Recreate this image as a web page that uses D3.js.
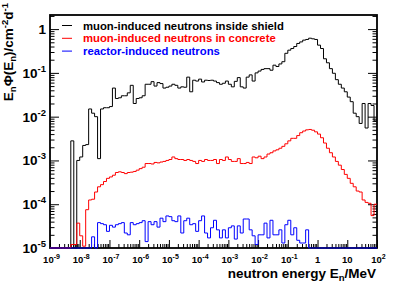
<!DOCTYPE html>
<html>
<head>
<meta charset="utf-8">
<script src="https://cdn.jsdelivr.net/npm/d3@7"></script>
<style>
  html, body { margin: 0; padding: 0; background: #fff; }
  svg { display: block; font-family: "Liberation Sans", Arial, sans-serif; font-weight: bold; }
</style>
</head>
<body>
<svg id="chart" width="407" height="292"></svg>
<script>
// ---------- Data (10 bins per decade, 1e-9 .. 1e2 MeV) ----------
const logEMin = -9, logEMax = 2, binsPerDecade = 10;

const shieldFlux = [
  0, 0, 0, 0, 0, 0, 0, 2.8e-3, 0, 1.0e-3,
  1.2e-3, 2.2e-3, 2.3e-3, 1.5e-2, 1.2e-2, 1.0e-2, 1.1e-3, 1.5e-2, 1.6e-2, 1.6e-2,
  1.7e-2, 4.5e-2, 2.6e-2, 2.7e-2, 3.0e-2, 3.0e-2, 3.5e-2, 5.2e-2, 2.0e-2, 2.6e-2,
  2.7e-2, 3.0e-2, 5.5e-2, 5.5e-2, 6.3e-2, 5.0e-2, 6.0e-2, 5.7e-2, 4.5e-2, 4.7e-2,
  5.0e-2, 5.5e-2, 5.2e-2, 4.5e-2, 4.8e-2, 4.7e-2, 8.0e-2, 3.7e-2, 6.8e-2, 6.5e-2,
  7.2e-2, 6.2e-2, 6.8e-2, 6.7e-2, 6.8e-2, 6.5e-2, 6.0e-2, 5.5e-2, 5.8e-2, 6.5e-2,
  5.5e-2, 4.8e-2, 6.4e-2, 7.8e-2, 4.8e-2, 4.5e-2, 8.0e-2, 9.0e-2, 6.5e-2, 1.0e-1,
  1.1e-1, 1.2e-1, 1.25e-1, 1.25e-1, 1.15e-1, 1.5e-1, 1.4e-1, 1.6e-1, 1.8e-1, 2.8e-1,
  3.3e-1, 3.6e-1, 4.0e-1, 4.7e-1, 5.1e-1, 5.6e-1, 5.8e-1, 6.2e-1, 6.0e-1, 5.8e-1,
  4.3e-1, 3.6e-1, 2.1e-1, 1.7e-1, 1.25e-1, 9.8e-2, 7.0e-2, 5.5e-2, 4.5e-2, 3.7e-2,
  2.8e-2, 2.2e-2, 1.2e-2, 1.0e-2, 7.0e-3, 2.0e-2, 5.5e-3, 2.0e-2, 1.8e-2, 8.0e-3
];

const concreteFlux = [
  0, 0, 0, 0, 0, 0, 0, 1.2e-5, 1.2e-5, 3.7e-5,
  1.9e-5, 1.1e-5, 7.5e-5, 1.25e-4, 1.3e-4, 1.9e-4, 2.5e-4, 2.8e-4, 3.3e-4, 3.9e-4,
  4.2e-4, 4.6e-4, 5.3e-4, 5.5e-4, 5.3e-4, 5.0e-4, 5.3e-4, 5.4e-4, 5.6e-4, 6.0e-4,
  6.5e-4, 7.0e-4, 8.5e-4, 8.5e-4, 8.3e-4, 9.0e-4, 8.8e-4, 9.2e-4, 9.5e-4, 1.0e-3,
  1.05e-3, 1.2e-3, 1.1e-3, 1.05e-3, 1.05e-3, 1.0e-3, 1.05e-3, 1.0e-3, 9.5e-4, 8.5e-4,
  1.0e-3, 9.5e-4, 1.05e-3, 1.0e-3, 1.0e-3, 1.05e-3, 8.5e-4, 1.05e-3, 1.0e-3, 1.2e-3,
  1.05e-3, 9.5e-4, 9.5e-4, 1.1e-3, 8.5e-4, 8.5e-4, 9.0e-4, 8.5e-4, 1.2e-3, 1.15e-3,
  1.25e-3, 1.1e-3, 1.2e-3, 1.4e-3, 1.5e-3, 1.65e-3, 1.75e-3, 1.9e-3, 2.1e-3, 2.4e-3,
  2.8e-3, 3.2e-3, 3.2e-3, 3.7e-3, 4.3e-3, 4.7e-3, 5.0e-3, 5.1e-3, 4.9e-3, 4.5e-3,
  4.0e-3, 3.3e-3, 2.5e-3, 1.9e-3, 1.5e-3, 1.2e-3, 9.5e-4, 7.8e-4, 6.2e-4, 4.8e-4,
  3.9e-4, 3.0e-4, 2.5e-4, 2.0e-4, 1.9e-4, 1.25e-4, 1.1e-4, 1.05e-4, 5.5e-5, 1.0e-4
];

const reactorFlux = [
  0, 0, 0, 0, 0, 0, 0, 0, 0, 0,
  0, 0, 0, 0, 1.8e-5, 0, 3.8e-5, 3.6e-5, 3.4e-5, 2.4e-5,
  3.3e-5, 3.0e-5, 3.4e-5, 3.6e-5, 3.8e-5, 2.2e-5, 2.0e-5, 3.8e-5, 3.4e-5, 3.6e-5,
  3.8e-5, 4.2e-5, 1.4e-5, 4.0e-5, 3.4e-5, 4.0e-5, 3.0e-5, 4.8e-5, 4.0e-5, 5.4e-5,
  5.2e-5, 4.2e-5, 4.0e-5, 5.4e-5, 2.2e-5, 4.2e-5, 4.8e-5, 3.4e-5, 3.6e-5, 2.4e-5,
  4.2e-5, 5.4e-5, 2.2e-5, 1.7e-5, 2.9e-5, 4.3e-5, 2.6e-5, 1.7e-5, 2.6e-5, 1.7e-5,
  2.9e-5, 3.2e-5, 1.6e-5, 3.2e-5, 2.2e-5, 4.6e-5, 4.6e-5, 2.6e-5, 1.9e-5, 1.2e-5,
  2.0e-5, 2.0e-5, 3.7e-5, 1.7e-5, 4.3e-5, 2.0e-5, 2.0e-5, 2.6e-5, 1.3e-5, 3.4e-5,
  4.3e-5, 2.0e-5, 2.9e-5, 1.5e-5, 1.3e-5, 1.3e-5, 2.6e-5, 0, 0, 0,
  0, 0, 0, 0, 0, 0, 0, 0, 0, 0,
  0, 0, 0, 0, 0, 0, 0, 0, 0, 0
];

const series = [
  { name: "muon-induced neutrons inside shield", values: shieldFlux, color: "#000000" },
  { name: "muon-induced neutrons in concrete", values: concreteFlux, color: "#ff0000" },
  { name: "reactor-induced neutrons", values: reactorFlux, color: "#0000ff" }
];

const xTickExps = [-9, -8, -7, -6, -5, -4, -3, -2, -1, 0, 1, 2];
const xTickLabels = [["10","-9"],["10","-8"],["10","-7"],["10","-6"],["10","-5"],["10","-4"],
                     ["10","-3"],["10","-2"],["10","-1"],["1",""],["10",""],["10","2"]];
const yTickExps = [0, -1, -2, -3, -4, -5];
const yTickLabels = [["1",""],["10","-1"],["10","-2"],["10","-3"],["10","-4"],["10","-5"]];

// ---------- Layout ----------
const svg = d3.select("#chart");
const M = { l: 50, r: 30, t: 15, b: 44 };
const W = 407, H = 292;
const yMin = 1e-5, yMax = 2.1;

const x = d3.scaleLog().domain([Math.pow(10, logEMin), Math.pow(10, logEMax)]).range([M.l, W - M.r]);
const y = d3.scaleLog().domain([yMin, yMax]).range([H - M.b, M.t]);

svg.append("defs").append("clipPath").attr("id", "plotClip")
  .append("rect").attr("x", M.l).attr("y", M.t - 1)
  .attr("width", x.range()[1] - M.l).attr("height", (H - M.b) - M.t + 2);

// minor ticks helpers
function minorTicks(lo, hi) {
  const out = [];
  for (let e = lo; e < hi; e++) for (let k = 2; k <= 9; k++) out.push(k * Math.pow(10, e));
  return out;
}

// ---------- Axes ----------
const xMajor = xTickExps.map(e => Math.pow(10, e));
const yMajor = yTickExps.map(e => Math.pow(10, e));
const bottomY = H - M.b;

function axisStyle(g) {
  g.select(".domain").remove();
  g.selectAll("line").attr("stroke", "#000").attr("stroke-width", 1);
}

svg.append("g").attr("transform", `translate(0,${bottomY})`)
  .call(d3.axisBottom(x).tickValues(xMajor).tickSize(-8).tickFormat(""))
  .call(axisStyle);
svg.append("g").attr("transform", `translate(0,${bottomY})`)
  .call(d3.axisBottom(x).tickValues(minorTicks(logEMin, logEMax)).tickSize(-4).tickFormat(""))
  .call(axisStyle);

svg.append("g").attr("transform", `translate(${M.l},0)`)
  .call(d3.axisLeft(y).tickValues(yMajor).tickSize(-9).tickFormat(""))
  .call(axisStyle);
svg.append("g").attr("transform", `translate(${M.l},0)`)
  .call(d3.axisLeft(y).tickValues(minorTicks(-5, 1).filter(v => v <= yMax)).tickSize(-4.5).tickFormat(""))
  .call(axisStyle);
svg.append("g").attr("transform", `translate(${x.range()[1]},0)`)
  .call(d3.axisRight(y).tickValues(yMajor).tickSize(-9).tickFormat(""))
  .call(axisStyle);
svg.append("g").attr("transform", `translate(${x.range()[1]},0)`)
  .call(d3.axisRight(y).tickValues(minorTicks(-5, 1).filter(v => v <= yMax)).tickSize(-4.5).tickFormat(""))
  .call(axisStyle);

// frame
svg.append("rect")
  .attr("x", M.l).attr("y", M.t)
  .attr("width", x.range()[1] - M.l).attr("height", bottomY - M.t)
  .attr("fill", "none").attr("stroke", "#000").attr("stroke-width", 1.8);

// tick labels
const xl = svg.append("g").attr("font-size", 9.5).attr("text-anchor", "middle");
xTickExps.forEach((e, i) => {
  const t = xl.append("text").attr("x", x(Math.pow(10, e)) + (xTickLabels[i][1] ? 1.5 : 0)).attr("y", bottomY + 15);
  t.append("tspan").text(xTickLabels[i][0]);
  if (xTickLabels[i][1]) t.append("tspan").attr("dy", -4).attr("font-size", 7).text(xTickLabels[i][1]);
});

const yl = svg.append("g").attr("font-size", 13.5).attr("text-anchor", "end");
yTickExps.forEach((e, i) => {
  const t = yl.append("text").attr("x", M.l - 4).attr("y", y(Math.pow(10, e)) + 5);
  t.append("tspan").text(yTickLabels[i][0]);
  if (yTickLabels[i][1]) t.append("tspan").attr("dy", -6).attr("font-size", 9.5).text(yTickLabels[i][1]);
});

// axis titles
const xt = svg.append("text").attr("x", x.range()[1] - 1).attr("y", 278)
  .attr("text-anchor", "end").attr("font-size", 13.5);
xt.append("tspan").text("neutron energy E");
xt.append("tspan").attr("dy", 3).attr("font-size", 9.5).text("n");
xt.append("tspan").attr("dy", -3).text("/MeV");

const yt = svg.append("text").attr("transform", "translate(13,3) rotate(-90)")
  .attr("text-anchor", "end").attr("font-size", 13.5);
yt.append("tspan").text("E");
yt.append("tspan").attr("dy", 3).attr("font-size", 9.5).text("n");
yt.append("tspan").attr("dy", -3).text("Φ(E");
yt.append("tspan").attr("dy", 3).attr("font-size", 9.5).text("n");
yt.append("tspan").attr("dy", -3).text(")/cm");
yt.append("tspan").attr("dy", -5).attr("font-size", 9.5).text("-2");
yt.append("tspan").attr("dy", 5).text("d");
yt.append("tspan").attr("dy", -5).attr("font-size", 9.5).text("-1");

// ---------- Histograms ----------
const binEdge = i => Math.pow(10, logEMin + i / binsPerDecade);
const line = d3.line().x(d => x(d[0])).y(d => y(Math.max(d[1], yMin)));
const plot = svg.append("g").attr("clip-path", "url(#plotClip)");

series.forEach(s => {
  const pts = s.values.flatMap((v, i) => [[binEdge(i), v], [binEdge(i + 1), v]]);
  plot.append("path").datum(pts)
    .attr("fill", "none").attr("stroke", s.color).attr("stroke-width", 1)
    .attr("d", line);
});

// ---------- Legend ----------
const lg = svg.append("g").attr("font-size", 11.3);
series.forEach((s, i) => {
  const ly = 25.5 + i * 12.8;
  lg.append("line").attr("x1", 62).attr("x2", 72).attr("y1", ly).attr("y2", ly)
    .attr("stroke", s.color).attr("stroke-width", 1);
  lg.append("text").attr("x", 83).attr("y", ly + 4).attr("fill", s.color).text(s.name);
});
</script>
</body>
</html>
